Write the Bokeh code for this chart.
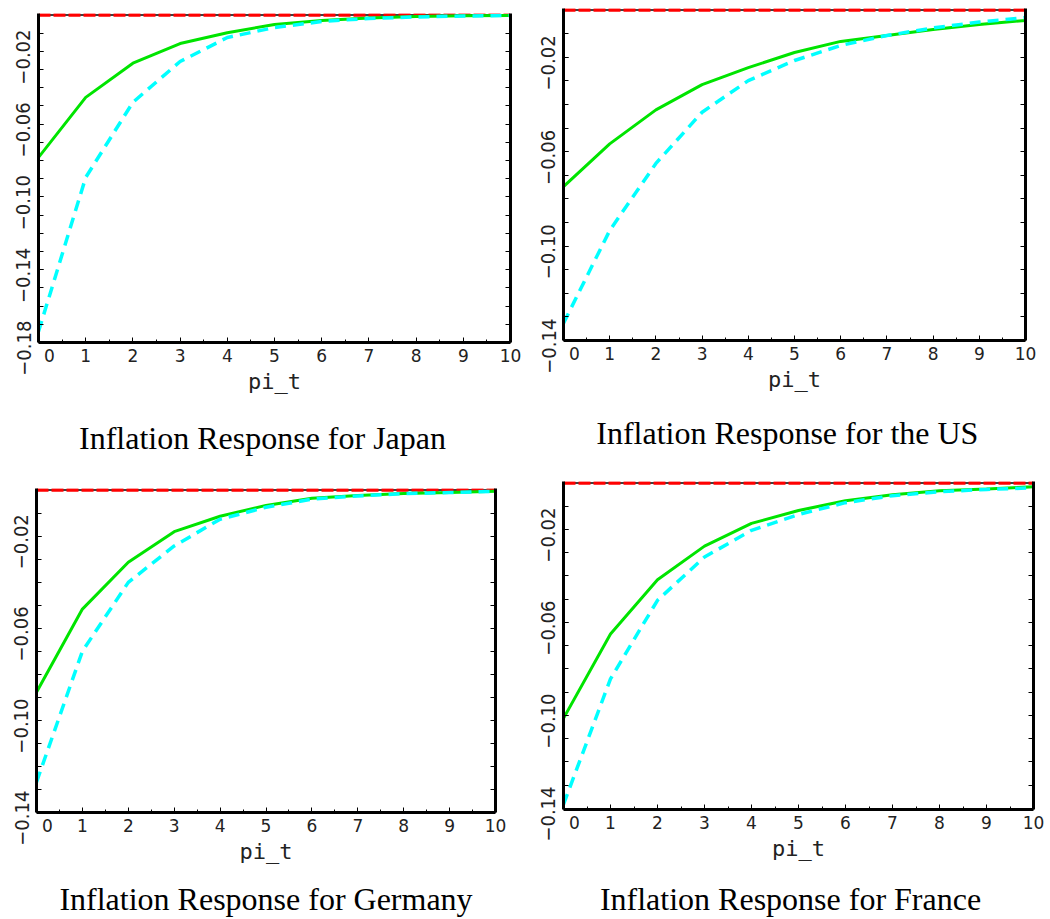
from bokeh.plotting import figure
from bokeh.models import LinearAxis, FixedTicker, Range1d
from bokeh.layouts import column, row
from bokeh.embed import file_html
from bokeh.resources import INLINE

# ---------------- data ----------------
horizon = [0, 1, 2, 3, 4, 5, 6, 7, 8, 9, 10]

japan_green = [-0.0783, -0.0453, -0.0265, -0.0157, -0.0098, -0.0052, -0.0030, -0.0017, -0.0009, -0.0005, -0.0003]
japan_cyan = [-0.1740, -0.0893, -0.0480, -0.0256, -0.0124, -0.0069, -0.0036, -0.0019, -0.0011, -0.0006, -0.0003]
japan_red = [0, 0, 0, 0, 0, 0, 0, 0, 0, 0, 0]

us_green = [-0.0748, -0.0567, -0.0423, -0.0316, -0.0244, -0.0180, -0.0133, -0.0108, -0.0083, -0.0061, -0.0044]
us_cyan = [-0.1327, -0.0934, -0.0650, -0.0433, -0.0299, -0.0214, -0.0150, -0.0108, -0.0076, -0.0051, -0.0032]
us_red = [0, 0, 0, 0, 0, 0, 0, 0, 0, 0, 0]

germany_green = [-0.0878, -0.0517, -0.0314, -0.0181, -0.0114, -0.0067, -0.0036, -0.0024, -0.0015, -0.0011, -0.0006]
germany_cyan = [-0.1268, -0.0700, -0.0401, -0.0243, -0.0127, -0.0075, -0.0040, -0.0026, -0.0016, -0.0011, -0.0006]
germany_red = [0, 0, 0, 0, 0, 0, 0, 0, 0, 0, 0]

france_green = [-0.1013, -0.0650, -0.0417, -0.0272, -0.0174, -0.0119, -0.0077, -0.0051, -0.0034, -0.0026, -0.0017]
france_cyan = [-0.1383, -0.0843, -0.0505, -0.0319, -0.0204, -0.0136, -0.0085, -0.0055, -0.0038, -0.0028, -0.0021]
france_red = [0, 0, 0, 0, 0, 0, 0, 0, 0, 0, 0]

titles = ["Inflation Response for Japan", "Inflation Response for the US",
          "Inflation Response for Germany", "Inflation Response for France"]
# trailing blank pads nudge each centred caption slightly left, as in the original
title_pads = ["\u2007\u2008", "\u2008\u2009", "", "\u2007"]
x_axis_label = "pi_t"

x_ticks = [0, 1, 2, 3, 4, 5, 6, 7, 8, 9, 10]
x_tick_labels = ["\u2007\u20070", "1", "2", "3", "4", "5", "6", "7", "8", "9", "10"]

y_ticks_japan = [-0.18, -0.14, -0.10, -0.06, -0.02]
y_tick_labels_japan = ["\u22120.18", "\u22120.14", "\u22120.10", "\u22120.06", "\u22120.02"]
y_ticks_other = [-0.14, -0.10, -0.06, -0.02]
y_tick_labels_other = ["\u22120.14", "\u22120.10", "\u22120.06", "\u22120.02"]
y_label_pad = "\u2007"

TICK_FONT = "DejaVu Sans"
YTICK_FONT = "DejaVu Sans Condensed"
LABEL_FONT = "DejaVu Sans Mono"
TITLE_FONT = "Liberation Serif"


def panel(green, cyan, red, y_start, y_end, yticks, ylabels, title,
          width, height, mb_left, mb_right, mb_top, mb_bottom, title_standoff):
    p = figure(width=width, height=height, output_backend="svg", toolbar_location=None,
               x_range=Range1d(0, 10), y_range=Range1d(y_start, y_end),
               min_border_left=mb_left, min_border_right=mb_right,
               min_border_top=mb_top, min_border_bottom=mb_bottom,
               x_axis_label=x_axis_label)
    p.outline_line_color = None
    p.xgrid.visible = False
    p.ygrid.visible = False
    p.background_fill_color = "white"
    p.border_fill_color = "white"

    n_minor = int(round(-y_start / 0.01))
    y_minor = [round(-0.01 * k, 2) for k in range(1, n_minor + 1)]
    x_minor = [k + 0.5 for k in range(10)]

    # bottom axis
    xa = p.xaxis[0]
    xa.ticker = FixedTicker(ticks=x_ticks, minor_ticks=x_minor)
    xa.major_label_overrides = {t: l for t, l in zip(x_ticks, x_tick_labels)}
    xa.axis_line_width = 3
    xa.axis_line_color = "black"
    xa.major_tick_in = 5
    xa.major_tick_out = 0
    xa.minor_tick_in = 3
    xa.minor_tick_out = 0
    xa.major_tick_line_color = "black"
    xa.minor_tick_line_color = "black"
    xa.major_label_standoff = 3
    xa.major_label_text_font = TICK_FONT
    xa.major_label_text_font_size = "17px"
    xa.major_label_text_color = "#222222"
    xa.axis_label_text_font = LABEL_FONT
    xa.axis_label_text_font_size = "22px"
    xa.axis_label_text_font_style = "normal"
    xa.axis_label_text_color = "#222222"
    xa.axis_label_standoff = 0

    # left axis
    ya = p.yaxis[0]
    ya.ticker = FixedTicker(ticks=yticks, minor_ticks=y_minor)
    ya.major_label_overrides = {t: l + y_label_pad for t, l in zip(yticks, ylabels)}
    ya.major_label_orientation = "parallel"
    ya.axis_line_width = 3
    ya.axis_line_color = "black"
    ya.major_tick_in = 5
    ya.major_tick_out = 0
    ya.minor_tick_in = 5
    ya.minor_tick_out = 0
    ya.major_tick_line_color = "black"
    ya.minor_tick_line_color = "black"
    ya.major_label_standoff = 3
    ya.major_label_text_font = YTICK_FONT
    ya.major_label_text_font_size = "20px"
    ya.major_label_text_color = "#222222"

    # right axis (frame line with inward ticks, no labels)
    ra = LinearAxis(ticker=FixedTicker(ticks=[], minor_ticks=y_minor))
    ra.axis_line_width = 3
    ra.axis_line_color = "black"
    ra.major_tick_in = 0
    ra.major_tick_out = 0
    ra.minor_tick_in = 5
    ra.minor_tick_out = 0
    ra.minor_tick_line_color = "black"
    ra.major_label_standoff = 0
    p.add_layout(ra, "right")

    # caption below as a second, tickless axis label
    ta = LinearAxis(ticker=FixedTicker(ticks=[], minor_ticks=[]))
    ta.axis_line_color = None
    ta.major_tick_line_color = None
    ta.minor_tick_line_color = None
    ta.major_tick_out = 0
    ta.minor_tick_out = 0
    ta.major_label_standoff = 0
    ta.axis_label = title
    ta.axis_label_text_font = TITLE_FONT
    ta.axis_label_text_font_size = "32px"
    ta.axis_label_text_font_style = "normal"
    ta.axis_label_text_color = "black"
    ta.axis_label_standoff = title_standoff
    p.add_layout(ta, "below")

    p.line(horizon, red, line_color="black", line_width=1.5)
    p.line(horizon, red, line_color="#ff0000", line_width=3.5, line_dash="12 3")
    p.line(horizon, green, line_color="#00e400", line_width=3)
    p.line(horizon, cyan, line_color="#00ffff", line_width=3.5, line_dash="11 7")
    return p


p1 = panel(japan_green, japan_cyan, japan_red, -0.18, 0.0008, y_ticks_japan, y_tick_labels_japan,
           titles[0] + title_pads[0], 530, 470, 38, 20, 13, 128, 23)
p2 = panel(us_green, us_cyan, us_red, -0.14, 0.00064, y_ticks_other, y_tick_labels_other,
           titles[1] + title_pads[1], 516, 470, 33, 21, 8, 130, 20)
p3 = panel(germany_green, germany_cyan, germany_red, -0.14, 0.00064, y_ticks_other, y_tick_labels_other,
           titles[2] + title_pads[2], 533, 449, 36, 38, 18, 104, 14)
p4 = panel(france_green, france_cyan, france_red, -0.1405, 0.0006, y_ticks_other, y_tick_labels_other,
           titles[3] + title_pads[3], 513, 449, 29, 13, 11, 107, 17)

layout = column(row(column(p1), column(p2), spacing=0),
                row(column(p3), column(p4), spacing=0), spacing=0)

with open("out.html", "w") as f:
    f.write(file_html(layout, INLINE))
